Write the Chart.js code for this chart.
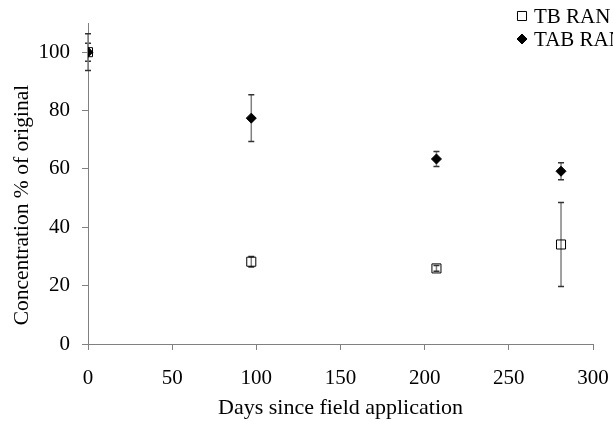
<!DOCTYPE html>
<html>
<head>
<meta charset="utf-8">
<script src="https://cdn.jsdelivr.net/npm/chart.js@4"></script>
<style>
  html, body { margin: 0; padding: 0; background: #fff; }
  canvas { display: block; }
</style>
</head>
<body>
<canvas id="residueChart" width="613" height="421"></canvas>
<script>
// sampling days and residue levels (% of the applied amount)
const days = [0, 97, 207, 281];
const tbRan = [100, 28.2, 25.9, 34.1];
const tbErr = [3.1, 1.8, 1.0, 14.4];
const tabRan = [100, 77.4, 63.4, 59.2];
const tabErr = [6.3, 8.0, 2.6, 2.9];

const seriesNames = ['TB RAN', 'TAB RAN'];
const xTicks = [0, 50, 100, 150, 200, 250, 300];
const yTicks = [0, 20, 40, 60, 80, 100];

const serif = "'Liberation Serif', 'Times New Roman', serif";
const axisGrey = '#808080';

function toPoints(values) 
{
    return days.map((d, i) => ({ x: d, y: values[i] }));
}

// vertical error bars, drawn under the markers
const errorBars = {
    id: 'errorBars',
    beforeDatasetsDraw(chart) 
    {
        const ctx = chart.ctx;
        const yScale = chart.scales.y;
        chart.data.datasets.forEach((ds, di) => {
            const meta = chart.getDatasetMeta(di);
            meta.data.forEach((pt, i) => {
                const err = ds.errors[i];
                const top = yScale.getPixelForValue(ds.data[i].y + err);
                const bottom = yScale.getPixelForValue(ds.data[i].y - err);
                ctx.save();
                ctx.lineWidth = 1.5;
                ctx.strokeStyle = axisGrey;
                ctx.beginPath();
                ctx.moveTo(pt.x, top);
                ctx.lineTo(pt.x, bottom);
                ctx.stroke();
                ctx.strokeStyle = '#333';
                ctx.beginPath();
                ctx.moveTo(pt.x - 3, top);
                ctx.lineTo(pt.x + 3, top);
                ctx.moveTo(pt.x - 3, bottom);
                ctx.lineTo(pt.x + 3, bottom);
                ctx.stroke();
                ctx.restore();
            });
        });
    }
};

// legend in the top right corner and the rotated y title
const sideText = {
    id: 'sideText',
    afterDraw(chart) 
    {
        const ctx = chart.ctx;
        ctx.save();
        ctx.font = '21px ' + serif;
        ctx.fillStyle = '#000';
        ctx.textBaseline = 'middle';

        const rows = [16, 39];
        chart.data.datasets.forEach((ds, di) => {
            const y = rows[di];
            ctx.save();
            ctx.lineWidth = 1;
            ctx.strokeStyle = '#000';
            ctx.fillStyle = ds.backgroundColor;
            Chart.helpers.drawPoint(ctx, { pointStyle: ds.pointStyle, radius: ds.pointRadius, borderWidth: 1 }, 522, y);
            ctx.restore();
            ctx.textAlign = 'left';
            ctx.fillText(ds.label, 534, y + 1);
        });

        ctx.font = '21.5px ' + serif;
        ctx.translate(22, 205);
        ctx.rotate(-Math.PI / 2);
        ctx.textAlign = 'center';
        ctx.fillText('Concentration % of original', 0, 0);
        ctx.restore();
    }
};

new Chart(document.getElementById('residueChart'), {
    type: 'scatter',
    data: {
        datasets: [
            {
                label: seriesNames[0],
                data: toPoints(tbRan),
                errors: tbErr,
                pointStyle: 'rect',
                pointRadius: 6.4,
                pointHoverRadius: 6.4,
                backgroundColor: 'rgba(0,0,0,0)',
                borderColor: '#000',
                borderWidth: 1,
                order: 1
            },
            {
                label: seriesNames[1],
                data: toPoints(tabRan),
                errors: tabErr,
                pointStyle: 'rectRot',
                pointRadius: 5,
                pointHoverRadius: 5,
                backgroundColor: '#000',
                borderColor: '#000',
                borderWidth: 1,
                order: 0
            }
        ]
    },
    options: {
        responsive: false,
        animation: false,
        layout: { padding: { left: 0, right: 20, top: 23, bottom: 0 } },
        plugins: {
            legend: { display: false },
            tooltip: { enabled: false }
        },
        scales: {
            x: {
                type: 'linear',
                min: 0,
                max: 300,
                afterFit: s => {
                    s.height = 77;
                    s.paddingLeft = 0;
                    s.paddingRight = 0;
                },
                afterBuildTicks: s => { s.ticks = xTicks.map(v => ({ value: v })); },
                border: { color: axisGrey, width: 1 },
                grid: { drawOnChartArea: false, drawTicks: true, tickLength: 6, color: axisGrey },
                ticks: { color: '#000', padding: 16, maxRotation: 0, font: { family: serif, size: 21 } },
                title: {
                    display: true,
                    text: 'Days since field application',
                    color: '#000',
                    padding: { top: 1, bottom: 0 },
                    font: { family: serif, size: 22 }
                }
            },
            y: {
                type: 'linear',
                min: 0,
                max: 110,
                afterFit: s => {
                    s.width = 88;
                    s.paddingTop = 0;
                    s.paddingBottom = 0;
                },
                afterBuildTicks: s => { s.ticks = yTicks.map(v => ({ value: v })); },
                border: { color: axisGrey, width: 1 },
                grid: { drawOnChartArea: false, drawTicks: true, tickLength: 6, color: axisGrey },
                ticks: { color: '#000', padding: 12, font: { family: serif, size: 21 } }
            }
        }
    },
    plugins: [errorBars, sideText]
});
</script>
</body>
</html>
